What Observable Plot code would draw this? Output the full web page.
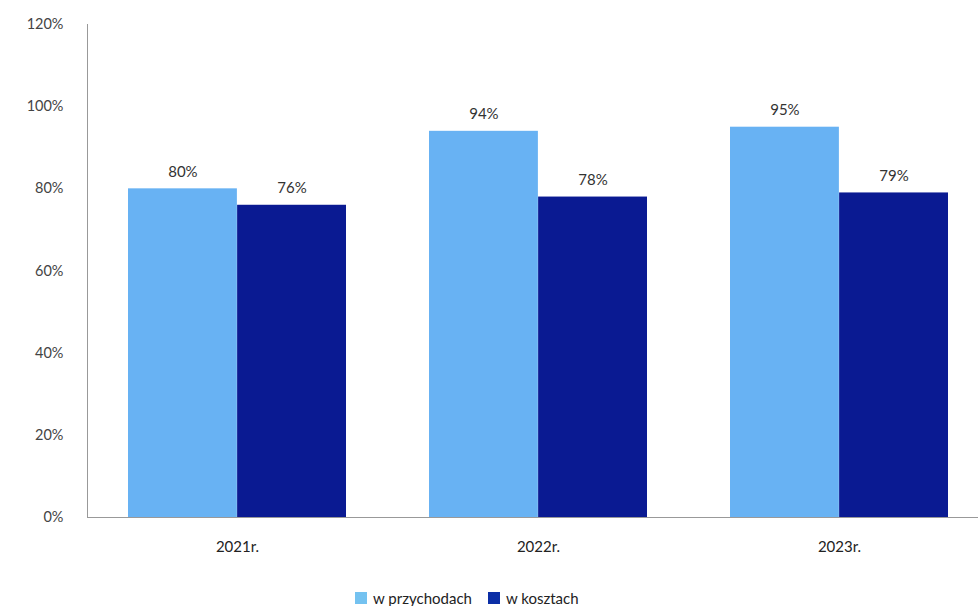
<!DOCTYPE html>
<html><head><meta charset="utf-8">
<script src="https://cdn.jsdelivr.net/npm/d3@7"></script>
<script src="https://cdn.jsdelivr.net/npm/@observablehq/plot@0.6"></script>
<style>
body{margin:0;background:#fff;font-family:Lato,"Open Sans",sans-serif;overflow:hidden}
#chart svg{display:block}
.legend{display:flex;align-items:center;padding-left:355px;margin-top:9px;font-size:15px;color:#222;line-height:18px}
.legend .item{display:flex;align-items:center;margin-right:16px}
.legend .sw{width:12px;height:12px;margin-right:6px}
</style>
</head><body>
<div id="chart"></div>
<script>
const years = ["2021r.", "2022r.", "2023r."];
const series = ["w przychodach", "w kosztach"];
const przychody = [80, 94, 95];
const koszty = [76, 78, 79];
const yTicks = [0, 20, 40, 60, 80, 100, 120];
const colors = ["#68b2f3", "#0a1a92"];
const legendColors = ["#74c2f0", "#0b2ea6"];

const data = years.flatMap((y, i) => [
  {year: y, series: series[0], value: przychody[i]},
  {year: y, series: series[1], value: koszty[i]}
]);
const s0 = data.filter(d => d.series === series[0]);
const s1 = data.filter(d => d.series === series[1]);

const xOpts = {type: "band", domain: years, range: [87, 990], paddingInner: 0.275, paddingOuter: 0.1375, label: null};
const bw = Plot.scale({x: xOpts}).bandwidth;
const half = bw / 2;

const chart = Plot.plot({
  width: 978,
  height: 580,
  marginLeft: 87,
  marginRight: -12,
  marginTop: 24,
  marginBottom: 63,
  style: {fontSize: "14px", fontFamily: "Lato, 'Open Sans', sans-serif", color: "#333", background: "#fff"},
  x: xOpts,
  y: {domain: [0, 120], label: null},
  marks: [
    Plot.barY(s0, {x: "year", y1: 0, y2: "value", fill: colors[0], insetRight: half}),
    Plot.barY(s1, {x: "year", y1: 0, y2: "value", fill: colors[1], insetLeft: half}),
    Plot.text(s0, {x: "year", y: "value", text: d => d.value + "%", dx: -half / 2, dy: -12, lineAnchor: "bottom", fill: "#333", fontSize: 15}),
    Plot.text(s1, {x: "year", y: "value", text: d => d.value + "%", dx: half / 2, dy: -12, lineAnchor: "bottom", fill: "#333", fontSize: 15}),
    Plot.frame({anchor: "left", stroke: "#999"}),
    Plot.frame({anchor: "bottom", stroke: "#999"}),
    Plot.axisY({ticks: yTicks, tickSize: 0, tickPadding: 24, tickFormat: d => d + "%", fill: "#444", fontSize: 14.5}),
    Plot.axisX({tickSize: 0, tickPadding: 24, fill: "#222", fontSize: 15})
  ]
});
document.getElementById("chart").appendChild(chart);

const legend = document.createElement("div");
legend.className = "legend";
series.forEach((s, i) => {
  const it = document.createElement("div");
  it.className = "item";
  it.innerHTML = `<span class="sw" style="background:${legendColors[i]}"></span><span>${s}</span>`;
  legend.appendChild(it);
});
document.body.appendChild(legend);
</script>
</body></html>
